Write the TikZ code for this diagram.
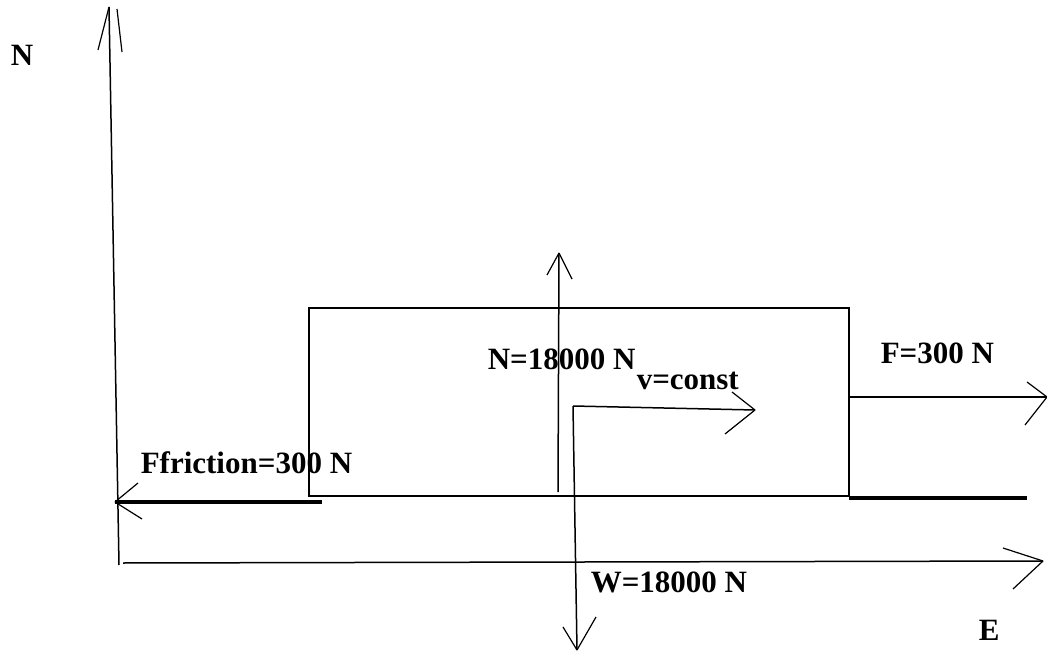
\documentclass[tikz,border=0pt]{standalone}
\usepackage{fontspec}
\setmainfont{Liberation Serif}
\begin{document}
\begin{tikzpicture}[x=1pt,y=-1pt,line width=1.5pt,
  lbl/.style={font=\bfseries\fontsize{31}{36}\selectfont,inner sep=0pt,anchor=base west},
  heavy/.style={line width=3.5pt},
  barb/.style={line width=1.2pt},
  block/.style={draw,line width=1.5pt,inner sep=0pt}]
\useasboundingbox (0,0) rectangle (1047,655);
% block
\node[block,minimum width=540pt,minimum height=188pt] (box) at (579,402) {};
% axes
\coordinate (ntip) at (109,7);
\coordinate (nbot) at (119,565);
\coordinate (eleft) at (123,563);
\coordinate (etip) at (1043,561);
\draw (nbot) -- (ntip);
\draw[barb] (ntip) -- (98,50);
\draw[barb] (ntip) ++(8,2) -- (122,52);
\draw (eleft) -- (etip);
\draw[barb] (etip) -- (1003,548);
\draw[barb] (etip) -- (1013,589);
\node[lbl] (nlab) at (10,66) {N};
\node[lbl] (elab) at (978,640) {E};
% ground lines
\coordinate (gl) at (115,502);
\coordinate (glr) at (322,502);
\draw[heavy] (glr) -- (gl);
\draw[barb] (gl) -- (138,483);
\draw[barb] (gl) -- (142,519);
\coordinate (grl) at (849,498);
\coordinate (grr) at (1027,498);
\draw[heavy] (grl) -- (grr);
% applied force
\coordinate (fs) at (849,397);
\coordinate (ftip) at (1047,397);
\draw (fs) -- (ftip);
\draw[barb] (ftip) -- (1027,382);
\draw[barb] (ftip) -- (1025,425);
% normal force
\coordinate (nfb) at (558,492);
\coordinate (nft) at (559,253);
\draw (nfb) -- (nft);
\draw[barb] (nft) -- (547,275);
\draw[barb] (nft) -- (572,279);
% velocity
\coordinate (vc) at (573,406);
\coordinate (vtip) at (755,410);
\draw (vc) -- (vtip);
\draw[barb] (vtip) -- (732,392);
\draw[barb] (vtip) -- (725,434);
% weight
\coordinate (wtip) at (577,650);
\draw (vc) -- (wtip);
\draw[barb] (wtip) -- (563,627);
\draw[barb] (wtip) -- (596,617);
% labels
\node[lbl] (ffr) at (140,473) {Ffriction=300 N};
\node[lbl] (nlb) at (487,369) {N=18000 N};
\node[lbl] (vlb) at (636,389) {v=const};
\node[lbl] (flb) at (880,363) {F=300 N};
\node[lbl] (wlb) at (590,592) {W=18000 N};
\end{tikzpicture}
\end{document}
